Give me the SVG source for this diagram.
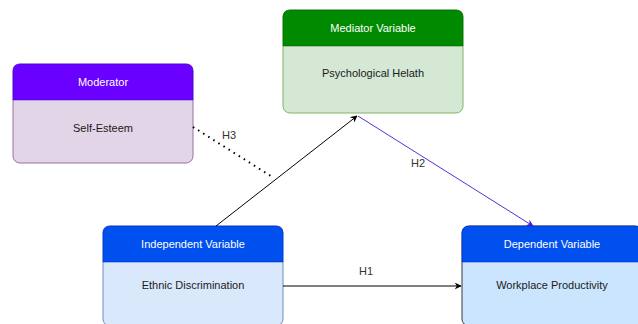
<svg xmlns="http://www.w3.org/2000/svg" width="638" height="324" viewBox="0 0 638 324">
<defs>
<style>
text{font-family:"Liberation Sans",Arial,sans-serif;font-size:11px;text-anchor:middle}
.h{fill:#ffffff}
.b{fill:#1a1a1a}
.lbl{fill:#333333}
</style>
<marker id="ab" viewBox="0 0 10 10" refX="9" refY="5" markerWidth="7" markerHeight="7" orient="auto"><path d="M0,0 L10,5 L0,10 L3,5 z" fill="#000"/></marker>
<marker id="ap" viewBox="0 0 10 10" refX="9" refY="5" markerWidth="7" markerHeight="7" orient="auto"><path d="M0,0 L10,5 L0,10 L3,5 z" fill="#4a1fd0"/></marker>
</defs>
<rect width="638" height="324" fill="#ffffff"/>
<g id="moderator">
<rect x="13" y="64" width="180" height="99" rx="7" fill="#e1d5e7" stroke="#9673a6"/>
<path d="M13,100 V71 Q13,64 20,64 H186 Q193,64 193,71 V100 Z" fill="#6a00ff" stroke="#3700cc" stroke-width="0.5"/>
<text class="h" x="103" y="86">Moderator</text>
<text class="b" x="103" y="132">Self-Esteem</text>
</g>
<g id="mediator">
<rect x="283" y="10" width="180" height="103" rx="7" fill="#d5e8d4" stroke="#82b366"/>
<path d="M283,46 V17 Q283,10 290,10 H456 Q463,10 463,17 V46 Z" fill="#008a00" stroke="#005700" stroke-width="0.5"/>
<text class="h" x="373" y="32">Mediator Variable</text>
<text class="b" x="373" y="77">Psychological Helath</text>
</g>
<g id="independent">
<rect x="103" y="226" width="180" height="100" rx="7" fill="#dae8fc" stroke="#6c8ebf"/>
<path d="M103,262 V233 Q103,226 110,226 H276 Q283,226 283,233 V262 Z" fill="#0050ef" stroke="#001dbc" stroke-width="0.5"/>
<text class="h" x="193" y="248">Independent Variable</text>
<text class="b" x="193" y="289">Ethnic Discrimination</text>
</g>
<g id="dependent">
<rect x="462" y="226" width="180" height="100" rx="7" fill="#cce5ff" stroke="#36393d"/>
<path d="M462,262 V233 Q462,226 469,226 H635 Q642,226 642,233 V262 Z" fill="#0050ef" stroke="#001dbc" stroke-width="0.5"/>
<text class="h" x="552" y="248">Dependent Variable</text>
<text class="b" x="552" y="289">Workplace Productivity</text>
</g>
<g id="connectors">
<line x1="216" y1="226" x2="357" y2="116" stroke="#000" stroke-width="1" marker-end="url(#ab)"/>
<line x1="358" y1="116" x2="533" y2="226" stroke="#5a2fd6" stroke-width="1" marker-end="url(#ap)"/>
<line x1="283" y1="286" x2="461" y2="286" stroke="#000" stroke-width="1" marker-end="url(#ab)"/>
<line x1="193" y1="127" x2="274" y2="178" stroke="#000" stroke-width="2" stroke-dasharray="1.5 4.5"/>
<text class="lbl" x="229" y="139">H3</text>
<text class="lbl" x="418" y="167">H2</text>
<text class="lbl" x="366" y="275">H1</text>
</g>
</svg>
